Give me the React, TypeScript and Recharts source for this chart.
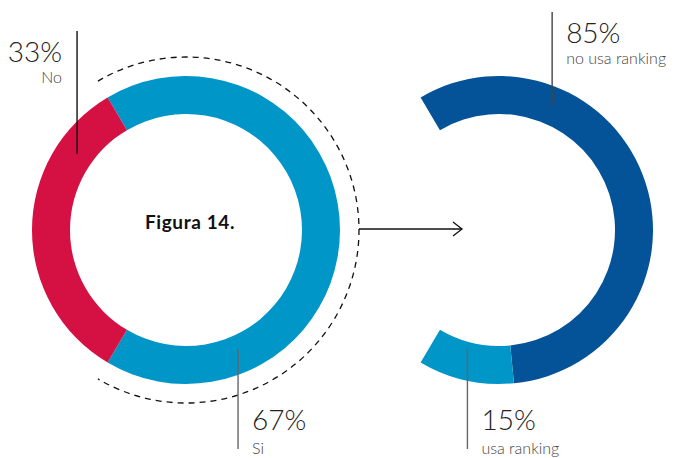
import { PieChart, Pie, Cell } from 'recharts';

// Figura 14: uso de rankings
const USO_NAMES = ['Si', 'No'];
const USO_VALUES = [67, 33];
const USO_COLORS = ['#0096c8', '#d41142'];

const RANKING_NAMES = ['no usa ranking', 'usa ranking'];
const RANKING_VALUES = [85, 15];
const RANKING_COLORS = ['#045297', '#0096c8'];

const TITLE = 'Figura 14.';

const usoData = USO_NAMES.map((name, i) => ({ name, value: USO_VALUES[i] }));
const rankingData = RANKING_NAMES.map((name, i) => ({ name, value: RANKING_VALUES[i] }));

const W = 675;
const H = 458;
const CY = 230;
const LEFT_CX = 186;
const RIGHT_CX = 499;
const INNER = 116;
const OUTER = 154;
const DASH_GAP = 19;

// the red "No" slice sits centred on the left; the right ring spans the "Si" share
const noShare = USO_VALUES[1] / (USO_VALUES[0] + USO_VALUES[1]);
const START = 180 - noShare * 180;

const RAD = Math.PI / 180;
const polar = (cx: number, cy: number, r: number, a: number) => [cx + r * Math.cos(-a * RAD), cy + r * Math.sin(-a * RAD)];

// leader line placement for each slice (angle / radius of the line end on the ring, y of its free end)
const CALLOUTS: Record<string, { angle: number; radius: number; lineTo: number; side: 'left' | 'right'; color: string }> = {
  No: { angle: 145, radius: 133, lineTo: 31, side: 'left', color: '#111' },
  Si: { angle: -66.4, radius: 130, lineTo: 449, side: 'right', color: '#666' },
  'no usa ranking': { angle: 67, radius: 136, lineTo: 12, side: 'right', color: '#444' },
  'usa ranking': { angle: 255, radius: 122, lineTo: 449, side: 'right', color: '#666' },
};

const FONT = 'Lato, "Open Sans", sans-serif';

function Callout(props: any) {
  const { name, value } = props;
  const cx = typeof props.cx === 'number' ? props.cx : LEFT_CX;
  const cy = typeof props.cy === 'number' ? props.cy : CY;
  const c = CALLOUTS[name];
  if (!c) return null;
  const [x0, y0] = polar(cx, cy, c.radius, c.angle);
  const up = c.lineTo < y0;
  const pctY = up ? c.lineTo + 31 : c.lineTo - 19;
  const nameY = up ? c.lineTo + 52 : c.lineTo + 5;
  const tx = c.side === 'left' ? x0 - 15 : x0 + 14;
  const anchor = c.side === 'left' ? 'end' : 'start';
  return (
    <g>
      <line x1={x0} y1={y0} x2={x0} y2={c.lineTo} stroke={c.color} strokeWidth={1.4} />
      <text x={tx} y={pctY} textAnchor={anchor} fontFamily={FONT} fontWeight={300} fontSize={28} fill="#222">
        {`${value}%`}
      </text>
      <text x={tx} y={nameY} textAnchor={anchor} fontFamily={FONT} fontWeight={300} fontSize={16} fill="#444">
        {name}
      </text>
    </g>
  );
}

function UsoLabel(props: any) {
  const cx = typeof props.cx === 'number' ? props.cx : LEFT_CX;
  const cy = typeof props.cy === 'number' ? props.cy : CY;
  if (props.name !== 'Si') {
    return (
      <g>
        <Callout {...props} />
        <text x={cx + 4} y={cy - 1} textAnchor="middle" fontFamily={FONT} fontWeight={700} fontSize={19} letterSpacing={0.6} fill="#111">
          {TITLE}
        </text>
      </g>
    );
  }
  const r = (props.outerRadius ?? OUTER) + DASH_GAP;
  const sa = props.startAngle ?? START;
  const ea = props.endAngle ?? START - 241;
  const [sx, sy] = polar(cx, cy, r, sa);
  const [ex, ey] = polar(cx, cy, r, ea);
  const large = Math.abs(sa - ea) > 180 ? 1 : 0;
  const ax = cx + r;
  const bx = ax + 103;
  return (
    <g>
      <path d={`M${sx},${sy} A${r},${r} 0 ${large} 1 ${ex},${ey}`} fill="none" stroke="#111" strokeWidth={1.3} strokeDasharray="6 5" />
      <line x1={ax} y1={cy - 1} x2={bx} y2={cy - 1} stroke="#111" strokeWidth={1.3} />
      <polyline points={`${bx - 9},${cy - 8} ${bx},${cy - 1} ${bx - 9},${cy + 6}`} fill="none" stroke="#111" strokeWidth={1.3} />
      <Callout {...props} />
    </g>
  );
}

export default function App() {
  return (
    <div style={{ position: 'absolute', left: 0, top: 0, width: W, height: H, background: '#fff' }}>
      <PieChart width={W} height={H} margin={{ top: 0, right: 0, bottom: 0, left: 0 }}>
        <Pie
          data={usoData}
          dataKey="value"
          nameKey="name"
          cx={LEFT_CX}
          cy={CY}
          innerRadius={INNER}
          outerRadius={OUTER}
          startAngle={START}
          endAngle={START - 360}
          stroke="none"
          label={UsoLabel}
          labelLine={false}
          isAnimationActive={false}
        >
          {usoData.map((d, i) => (
            <Cell key={d.name} fill={USO_COLORS[i]} />
          ))}
        </Pie>
        <Pie
          data={rankingData}
          dataKey="value"
          nameKey="name"
          cx={RIGHT_CX}
          cy={CY}
          innerRadius={INNER}
          outerRadius={OUTER}
          startAngle={START}
          endAngle={START - (1 - noShare) * 360}
          stroke="none"
          label={Callout}
          labelLine={false}
          isAnimationActive={false}
        >
          {rankingData.map((d, i) => (
            <Cell key={d.name} fill={RANKING_COLORS[i]} />
          ))}
        </Pie>
      </PieChart>
    </div>
  );
}
